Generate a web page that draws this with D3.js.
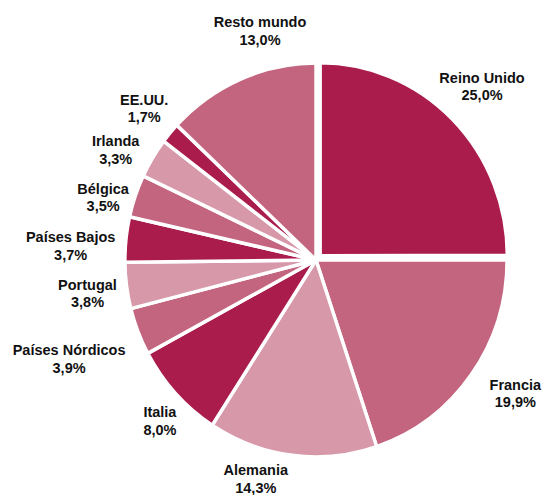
<!DOCTYPE html>
<html>
<head>
<meta charset="utf-8">
<script src="https://cdn.jsdelivr.net/npm/d3@7"></script>
<style>
  body { margin: 0; background: #fff; }
  text { font-family: "Liberation Sans", Arial, sans-serif; font-weight: bold; font-size: 14.5px; fill: #111; }
</style>
</head>
<body>
<div id="chart"></div>
<script>
const countries = ["Reino Unido", "Francia", "Alemania", "Italia", "Países Nórdicos", "Portugal",
  "Países Bajos", "Bélgica", "Irlanda", "EE.UU.", "Resto mundo"];
const shares = [25.0, 19.9, 14.3, 8.0, 3.9, 3.8, 3.7, 3.5, 3.3, 1.7, 13.0];
const shades = ["#aa1c4b", "#c4657f", "#d798aa"];

let width = 545,
  height = 495,
  cx = 316, cy = 260,
  r = 194,
  sy = 1.015; // pie is a little taller than wide in the original

// labels sit a bit behind the slice middle; a few need a hand tweak (degrees, extra gap)
const labelTurn = -2.5;
const labelTweak = {
  "Reino Unido": { da: 1.5, gap: 3 },
  "Francia": { gap: -5 },
  "Resto mundo": { da: 12, gap: 3 },
  "Alemania": { da: 11, gap: -8 },
  "Países Nórdicos": { da: 2.5, gap: 22 },
  "Portugal": { da: 2 },
  "Bélgica": { gap: -6 },
  "EE.UU.": { da: 3.5, gap: 5 }
};

const data = countries.map((c, i) => ({ country: c, value: shares[i] }));

const pie = d3.pie().sort(null).value(d => d.value);
const arcs = pie(data);

const arc = d3.arc().innerRadius(0).outerRadius(r);
const arcOut = d3.arc().innerRadius(0).outerRadius(r - 4);

const svg = d3.select("#chart")
  .append("svg")
  .attr("width", width)
  .attr("height", height)
  .attr("viewBox", [0, 0, width, height]);

const g = svg.append("g")
  .attr("transform", `translate(${cx},${cy}) scale(0.985,${sy})`);

g.selectAll("path")
  .data(arcs)
  .join("path")
  .attr("d", (d, i) => i === 0 ? arcOut(d) : arc(d))
  .attr("transform", (d, i) => {
    if (i !== 0) return null;
    let a = (d.startAngle + d.endAngle) / 2;
    return `translate(${6 * Math.sin(a)},${-6 * Math.cos(a)})`;
  })
  .attr("fill", (d, i) => shades[i % 3])
  .attr("stroke", "#fff")
  .attr("stroke-width", 3.5)
  .attr("stroke-linejoin", "round");

const labels = svg.append("g")
  .selectAll("text")
  .data(arcs)
  .join("text")
  .attr("text-anchor", "middle");

labels.append("tspan").attr("class", "name").text(d => d.data.country);
labels.append("tspan").attr("class", "pct")
  .text(d => d3.format(".1f")(d.data.value).replace(".", ",") + "%");

labels.each(function(d) {
  let t = labelTweak[d.data.country] || {};
  let w = d3.select(this).select(".name").node().getComputedTextLength();
  let hw = w / 2 + 2, hh = 16;
  let a = (d.startAngle + d.endAngle) / 2 + (labelTurn + (t.da || 0)) * Math.PI / 180;
  let s = Math.sin(a), c = Math.cos(a);
  let boxDist = Math.min(hw / Math.max(Math.abs(s), 1e-6), hh / Math.max(Math.abs(c), 1e-6));
  let gap = (d.data.value >= 10 ? 20 : 5) + (t.gap || 0);
  let dist = r + gap + boxDist;
  let x = cx + dist * s,
    y = cy - dist * c * sy;
  x = Math.max(hw + 1, Math.min(width - hw - 1, x));
  d3.select(this).select(".name").attr("x", x).attr("y", y - 2.5);
  d3.select(this).select(".pct").attr("x", x).attr("y", y + 15);
});
</script>
</body>
</html>
